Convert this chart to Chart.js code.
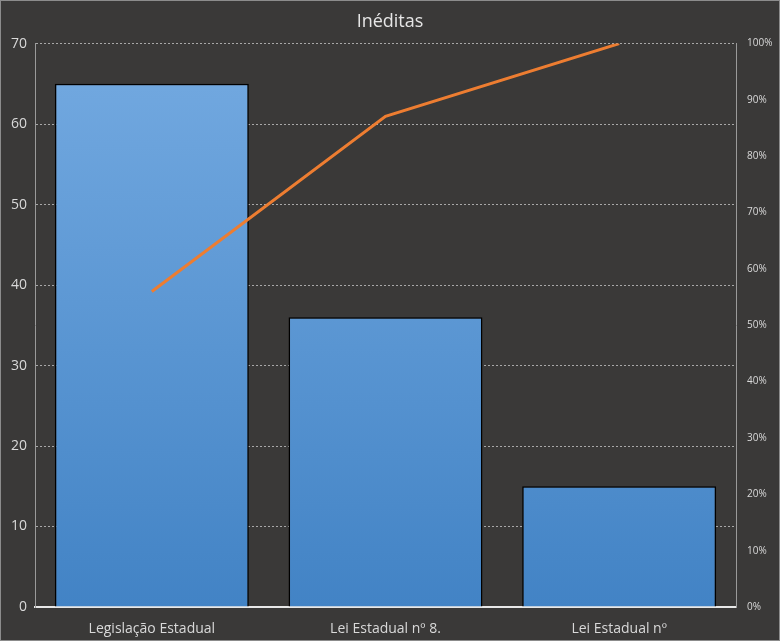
<!DOCTYPE html>
<html>
<head>
<meta charset="utf-8">
<script src="https://cdn.jsdelivr.net/npm/chart.js@4/dist/chart.umd.min.js"></script>
<style>
 body{margin:0;background:#3a3938;}
 #wrap{width:778px;height:639px;border:1px solid #8c8c8c;background:#3a3938;}
</style>
</head>
<body>
<div id="wrap"><canvas id="grafico" width="778" height="639"></canvas></div>
<script>
// datos
const categorias = ["Legislação Estadual", "Lei Estadual nº 8.", "Lei Estadual nº"];
const cantidades = [65, 36, 15];
const acumulado = [56, 87.1, 100]; // % acumulado
const ticksIzq = [0, 10, 20, 30, 40, 50, 60, 70];

const texto = "#d9d9d9";
const fuente = "'Open Sans', 'Noto Sans', sans-serif";

function degradado(ctx){
 const area = ctx.chart.chartArea;
 if(!area) return "#5b9bd5";
 const g = ctx.chart.ctx.createLinearGradient(0, area.top, 0, area.bottom);
 g.addColorStop(0, "#74aae1");
 g.addColorStop(1, "#4283c5");
 return g;
}

new Chart(document.getElementById("grafico"), {
 data: {
  labels: categorias,
  datasets: [
   {
    type: "line", data: acumulado, yAxisID: "y2",
    borderColor: "#ed7d31", borderWidth: 3, pointRadius: 0, tension: 0, order: 0
   },
   {
    type: "bar", data: cantidades, yAxisID: "y",
    backgroundColor: degradado, borderColor: "#000", borderWidth: 1.5,
    barPercentage: 0.83, categoryPercentage: 1, order: 1
   }
  ]
 },
 options: {
  responsive: false, animation: false,
  layout: { padding: { left: 0, right: 0, top: 0, bottom: 0 } },
  plugins: {
   legend: { display: false },
   tooltip: { enabled: false },
   title: {
    display: true, text: "Inéditas", color: "#e6e6e6",
    font: { family: fuente, size: 18, weight: "normal" }, padding: { top: 10, bottom: 11 }
   }
  },
  scales: {
   x: {
    grid: { display: false },
    border: { color: "#e8e8e8", width: 2 },
    ticks: { color: texto, font: { family: fuente, size: 14 }, padding: 6 },
    afterFit: s => { s.height = 33; }
   },
   y: {
    position: "left", min: 0, max: 70,
    afterBuildTicks: s => { s.ticks = ticksIzq.map(v => ({ value: v })); },
    grid: { color: "#a8a8a8", drawTicks: false },
    border: { color: "#9a9a9a", width: 1, dash: [2, 2] },
    ticks: { color: texto, font: { family: fuente, size: 14 }, padding: 8 },
    afterFit: s => { s.width = 34; }
   },
   y2: {
    position: "right", min: 0, max: 100,
    grid: { display: false, drawOnChartArea: false },
    border: { color: "#9a9a9a", width: 1 },
    ticks: { stepSize: 10, color: texto, font: { family: fuente, size: 10 }, padding: 3,
     callback: v => v + "%" },
    afterFit: s => { s.width = 43; }
   }
  }
 }
});
</script>
</body>
</html>
